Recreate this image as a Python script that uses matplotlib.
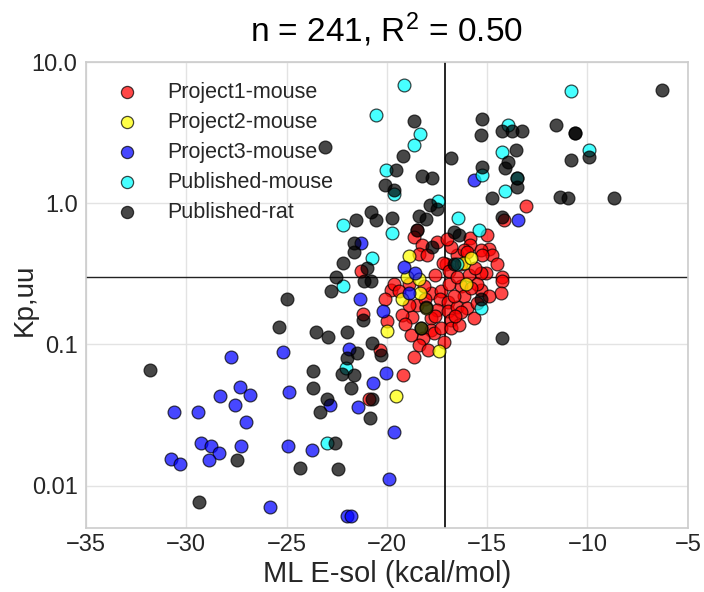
import numpy as np
import matplotlib
matplotlib.use("Agg")
import matplotlib.pyplot as plt

# Fuente tipo Arial para todo el gráfico (también en el texto matemático).
plt.rcParams["font.family"] = ["Liberation Sans", "DejaVu Sans"]
plt.rcParams["mathtext.fontset"] = "custom"
plt.rcParams["mathtext.rm"] = "Liberation Sans"
plt.rcParams["mathtext.it"] = "Liberation Sans:italic"

# Datos: energía de solvatación (kcal/mol) vs Kp,uu por grupo.
p1_x = [-21.27, -19.78, -20.07, -21.17, -19.98, -20.32, -20.87, -18.48, -18.63, -18.23,
        -17.49, -15.85, -15.85, -18.38, -17.99, -17.59, -18.88, -17.79, -17.29, -17.34,
        -17.49, -16.94, -16.94, -18.73, -19.23, -19.08, -17.79, -17.79, -17.64, -17.29,
        -16.79, -16.79, -18.18, -18.38, -17.94, -18.63, -19.18, -17.04, -16.49, -16.29,
        -15.90, -16.29, -16.89, -16.14, -16.49, -15.99, -16.29, -15.50, -13.06, -14.15,
        -15.00, -14.90, -15.30, -14.75, -15.25, -15.05, -15.30, -14.25, -14.25, -14.30,
        -15.30, -18.13, -17.19, -16.79, -16.14, -15.50, -14.90, -16.64, -18.48, -17.14,
        -18.78, -16.39, -19.63, -15.65, -14.50, -16.90, -16.50, -15.80, -17.60, -18.10,
        -16.00, -15.60, -17.00, -18.90, -16.60, -19.40]
p1_y = [0.33, 0.243, 0.21, 0.165, 0.147, 0.092, 0.041, 0.65, 0.58, 0.51,
        0.53, 0.57, 0.51, 0.44, 0.43, 0.31, 0.27, 0.23, 0.24, 0.21,
        0.176, 0.20, 0.173, 0.157, 0.162, 0.14, 0.154, 0.127, 0.121, 0.131,
        0.149, 0.131, 0.111, 0.099, 0.092, 0.082, 0.061, 0.37, 0.43, 0.37,
        0.31, 0.26, 0.27, 0.22, 0.185, 0.18, 0.17, 0.197, 0.96, 0.76,
        0.60, 0.475, 0.47, 0.43, 0.43, 0.32, 0.32, 0.30, 0.28, 0.23,
        0.243, 0.26, 0.38, 0.49, 0.47, 0.27, 0.22, 0.22, 0.19, 0.104,
        0.117, 0.138, 0.27, 0.154, 0.37, 0.33, 0.30, 0.25, 0.16, 0.21,
        0.45, 0.35, 0.56, 0.19, 0.16, 0.24]

p2_x = [-19.98, -19.53, -18.88, -18.98, -18.38, -19.23, -18.33, -18.03, -18.28, -17.39,
        -16.14, -15.80, -16.04]
p2_y = [0.125, 0.043, 0.42, 0.30, 0.29, 0.21, 0.23, 0.18, 0.13, 0.090,
        0.38, 0.41, 0.27]

p3_x = [-27.79, -25.20, -27.34, -26.84, -28.33, -24.90, -27.59, -30.62, -29.43, -27.04,
        -29.28, -28.78, -28.38, -27.29, -24.95, -30.77, -30.32, -28.88, -25.80, -21.27,
        -21.32, -20.17, -21.87, -20.02, -20.67, -22.81, -21.42, -19.63, -23.71, -19.88,
        -21.97, -21.77, -15.65, -19.13, -18.58, -18.88, -13.46]
p3_y = [0.082, 0.089, 0.050, 0.044, 0.043, 0.046, 0.037, 0.033, 0.033, 0.028,
        0.020, 0.019, 0.017, 0.019, 0.019, 0.0155, 0.0143, 0.0152, 0.0071, 0.52,
        0.21, 0.173, 0.093, 0.063, 0.053, 0.037, 0.036, 0.024, 0.018, 0.0112,
        0.0061, 0.0061, 1.46, 0.354, 0.32, 0.23, 0.76]

pub_mouse_x = [-20.52, -19.13, -18.33, -18.63, -20.02, -19.63, -22.21, -19.73, -20.72, -22.21,
               -22.06, -22.96, -17.44, -16.44, -15.25, -13.96, -14.25, -13.51, -14.10, -15.40,
               -15.30, -10.82, -9.93, -16.49]
pub_mouse_y = [4.2, 6.9, 3.1, 2.6, 1.72, 1.16, 0.70, 0.62, 0.41, 0.26,
               0.068, 0.020, 1.04, 0.79, 1.58, 3.6, 2.3, 1.5, 1.22, 0.65,
               0.18, 6.2, 2.4, 0.37]

pub_rat_x = [-31.82, -27.49, -24.35, -29.38, -25.00, -25.40, -23.06, -19.18, -19.53, -20.07,
             -19.63, -20.77, -20.52, -21.52, -19.73, -21.62, -21.62, -22.21, -20.97, -22.51,
             -21.12, -20.77, -22.76, -21.17, -23.51, -22.91, -22.01, -20.72, -20.27, -21.47,
             -22.01, -22.26, -21.62, -23.66, -23.66, -21.77, -22.96, -23.31, -20.72, -20.82,
             -22.56, -22.41, -18.63, -16.79, -18.23, -17.74, -17.84, -17.49, -18.38, -18.03,
             -18.48, -17.74, -16.64, -16.39, -18.03, -18.28, -16.64, -15.25, -15.30, -14.25,
             -13.76, -13.26, -11.57, -13.56, -13.96, -14.10, -13.51, -13.51, -15.25, -14.75,
             -11.37, -14.25, -15.30, -14.25, -6.30, -10.62, -10.62, -9.93, -10.82, -10.97,
             -8.68]
pub_rat_y = [0.066, 0.0152, 0.0134, 0.0077, 0.21, 0.133, 2.5, 2.16, 1.72, 1.35,
             1.24, 0.87, 0.76, 0.76, 0.79, 0.52, 0.45, 0.38, 0.35, 0.30,
             0.28, 0.28, 0.24, 0.15, 0.123, 0.113, 0.123, 0.103, 0.084, 0.087,
             0.080, 0.062, 0.061, 0.065, 0.049, 0.049, 0.041, 0.033, 0.041, 0.030,
             0.020, 0.013, 3.8, 2.1, 1.56, 1.51, 0.97, 0.91, 0.81, 0.77,
             0.65, 0.49, 0.63, 0.60, 0.185, 0.131, 0.37, 3.95, 3.04, 3.25,
             3.25, 3.25, 3.58, 2.38, 1.96, 1.78, 1.51, 1.30, 1.81, 1.09,
             1.11, 0.80, 0.21, 0.111, 6.3, 3.15, 3.15, 2.13, 2.02, 1.09,
             1.09]

grupos = [
    ("Project1-mouse", p1_x, p1_y, "red"),
    ("Project2-mouse", p2_x, p2_y, "yellow"),
    ("Project3-mouse", p3_x, p3_y, "blue"),
    ("Published-mouse", pub_mouse_x, pub_mouse_y, "cyan"),
    ("Published-rat", pub_rat_x, pub_rat_y, "black"),
]

# Umbrales de referencia.
umbral_esol = -17.1
umbral_kp = 0.3

y_ticks = [0.01, 0.1, 1.0, 10.0]
y_tick_labels = ["0.01", "0.1", "1.0", "10.0"]
x_ticks = [-35, -30, -25, -20, -15, -10, -5]

n_total = sum(len(g[1]) for g in grupos)

fig = plt.figure(figsize=(7.04, 5.92), dpi=100)
ax = fig.add_axes([0.122, 0.108, 0.855, 0.787])

for nombre, xs, ys, color in grupos:
    ax.scatter(xs, ys, s=85, c=color, alpha=0.72, edgecolors="black",
               linewidths=0.9, label=nombre, zorder=3)

ax.axvline(umbral_esol, color="black", linewidth=1.2, zorder=2)
ax.axhline(umbral_kp, color="#222222", linewidth=1.0, zorder=2)

ax.set_yscale("log")
ax.set_xlim(-35, -5)
ax.set_ylim(0.005, 10)
ax.set_xticks(x_ticks)
ax.set_yticks(y_ticks)
ax.set_yticklabels(y_tick_labels)
ax.minorticks_off()

# Estilo de rejilla clara y bordes grises.
ax.grid(True, color="#e3e3e3", linewidth=1.0, zorder=0)
ax.set_axisbelow(True)
for sp in ax.spines.values():
    sp.set_color("#cccccc")
    sp.set_linewidth(1.2)
ax.tick_params(axis="x", length=0, labelsize=17, labelcolor="#262626", pad=4)
ax.tick_params(axis="y", length=0, labelsize=17, labelcolor="#262626", pad=6)

ax.set_xlabel("ML E-sol (kcal/mol)", fontsize=21, color="#262626", labelpad=3)
ax.set_ylabel("Kp,uu", fontsize=20, color="#262626")
ax.yaxis.set_label_coords(-0.08, 0.49)
ax.set_title(f"n = {n_total}, R$^2$ = 0.50", fontsize=24, pad=15)

ax.legend(loc="upper left", frameon=False, fontsize=15.5, scatterpoints=1,
          markerscale=0.95, handletextpad=0.9, labelspacing=0.42,
          borderaxespad=0.5, labelcolor="#262626")

fig.savefig("out.png", dpi=100)
